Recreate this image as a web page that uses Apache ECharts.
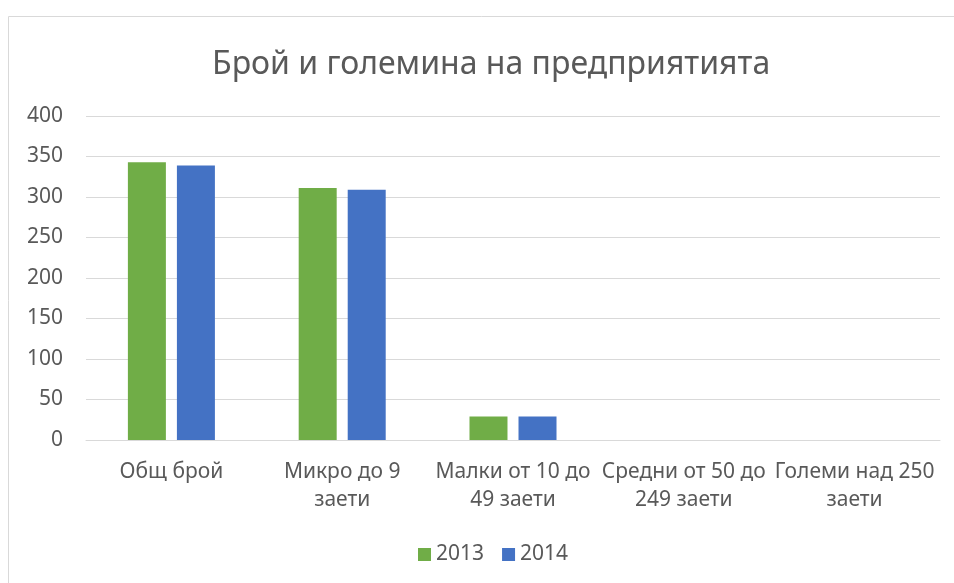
<!DOCTYPE html>
<html>
<head>
<meta charset="utf-8">
<script src="https://cdn.jsdelivr.net/npm/echarts@6/dist/echarts.min.js"></script>
<style>
html,body{margin:0;padding:0;background:#fff;}
#chart{width:954px;height:583px;}
</style>
</head>
<body>
<div id="chart"></div>
<script>
// данни
var categories = ['Общ брой', 'Микро до 9\nзаети', 'Малки от 10 до\n49 заети', 'Средни от 50 до\n249 заети', 'Големи над 250\nзаети'];
var data2013 = [343, 311, 29, 0, 0];
var data2014 = [339, 309, 29, 0, 0];
var seriesNames = ['2013', '2014'];

var myChart = echarts.init(document.getElementById('chart'));
var font = 'Noto Sans';

var option = {
    animation: false,
    color: ['#70AD47', '#4472C4'],
    title: {
        text: 'Брой и големина на предприятията',
        left: 207,
        top: 44,
        textStyle: { fontFamily: font, fontSize: 32, fontWeight: 'normal', color: '#595959' }
    },
    // рамка около диаграмата
    graphic: [{
        type: 'rect',
        shape: { x: 8.5, y: 16.5, width: 1000, height: 600 },
        style: { fill: 'none', stroke: '#d9d9d9', lineWidth: 1 },
        silent: true
    }],
    legend: {
        data: seriesNames,
        bottom: 13,
        left: 413,
        itemWidth: 13,
        itemHeight: 13,
        itemGap: 18,
        icon: 'rect',
        textStyle: { fontFamily: font, fontSize: 21, color: '#595959' }
    },
    grid: { left: 86, right: 14, top: 116, bottom: 143 },
    xAxis: {
        type: 'category',
        data: categories,
        axisTick: { show: false },
        axisLine: { lineStyle: { color: '#d9d9d9' } },
        axisLabel: { fontFamily: font, fontSize: 21, color: '#595959', lineHeight: 28, margin: 18, interval: 0 }
    },
    yAxis: {
        type: 'value',
        min: 0,
        max: 400,
        interval: 50,
        axisLine: { show: false },
        axisTick: { show: false },
        splitLine: { lineStyle: { color: '#d9d9d9' } },
        axisLabel: { fontFamily: font, fontSize: 21, color: '#595959', margin: 23 }
    },
    series: [
        { name: '2013', type: 'bar', data: data2013, barWidth: 38, barGap: '29%' },
        { name: '2014', type: 'bar', data: data2014, barWidth: 38, barGap: '29%' }
    ]
};
myChart.setOption(option);
</script>
</body>
</html>
